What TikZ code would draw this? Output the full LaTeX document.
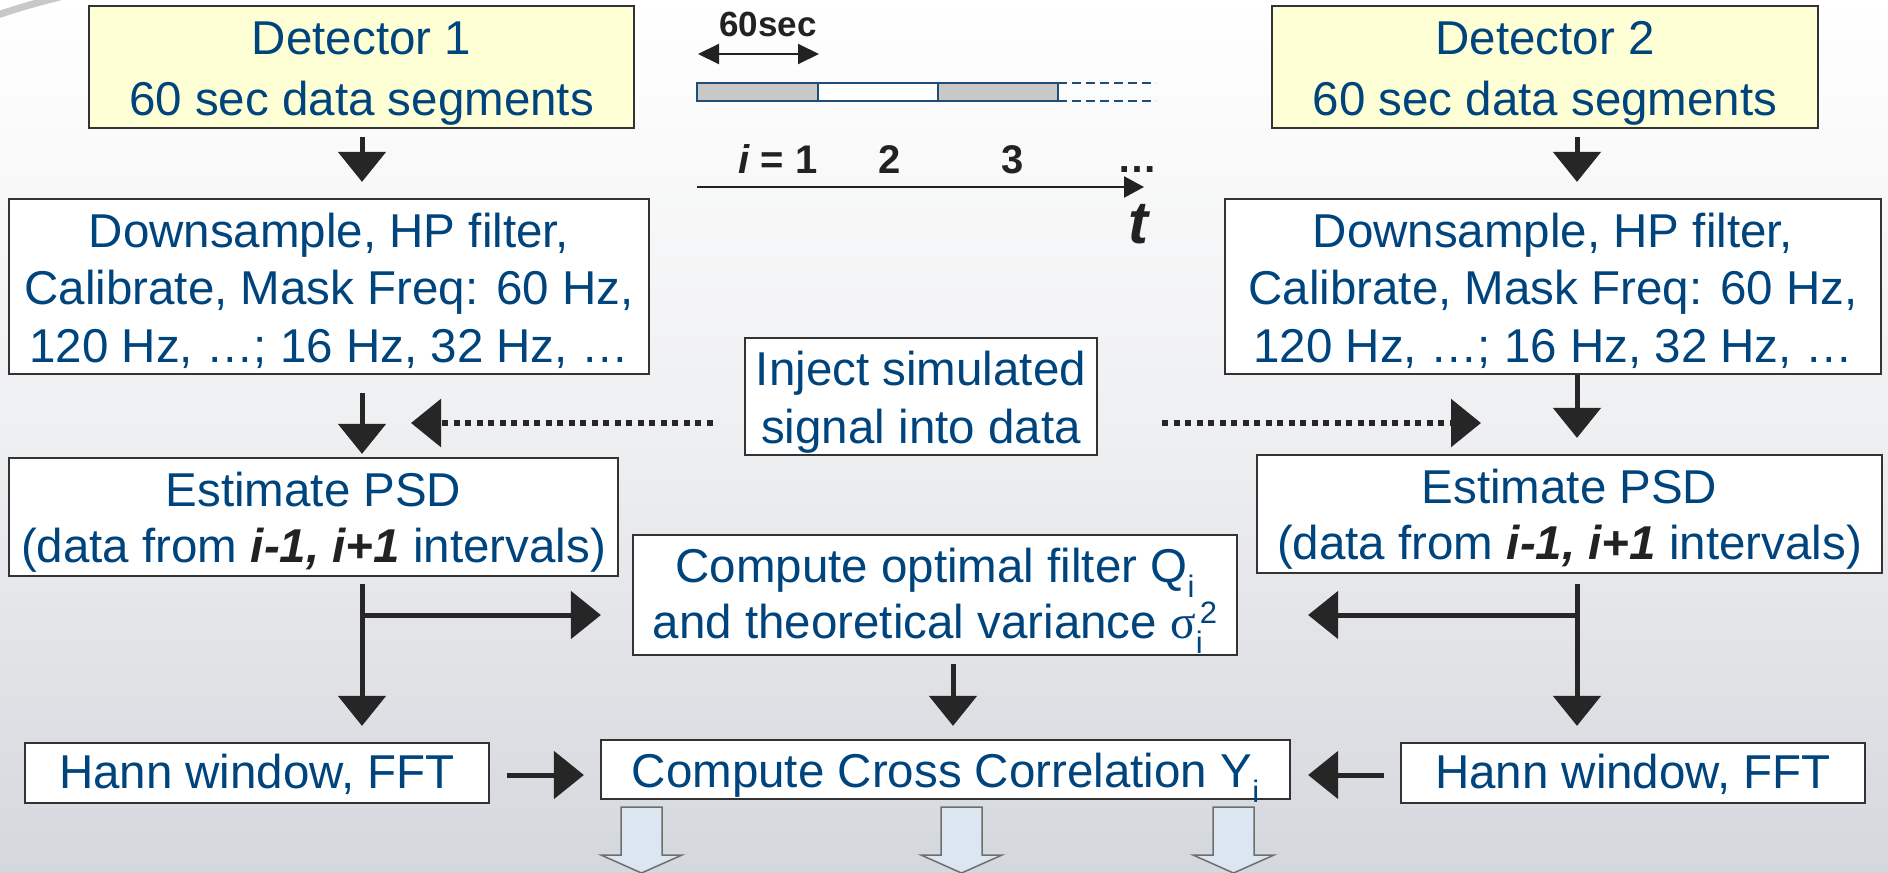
\documentclass[tikz,border=0pt]{standalone}
\usepackage{fontspec}
\setmainfont{Liberation Sans}
\newfontfamily\serifgreek{Liberation Serif}
\usetikzlibrary{arrows.meta}

\definecolor{txtblue}{RGB}{0,68,125}
\definecolor{arrowdark}{RGB}{38,38,38}
\definecolor{boxline}{RGB}{51,51,51}
\definecolor{detfill}{RGB}{255,255,213}
\definecolor{bgtop}{RGB}{255,255,255}
\definecolor{bgmid}{RGB}{238,239,241}
\definecolor{bgbot}{RGB}{212,215,220}
\definecolor{barblue}{RGB}{31,78,121}
\definecolor{bargray}{RGB}{200,200,200}
\definecolor{blockfill}{RGB}{220,230,242}
\definecolor{blockline}{RGB}{110,110,110}
\definecolor{darktxt}{RGB}{34,34,34}
\definecolor{arcgray}{RGB}{200,200,200}

\newcommand{\boxtxt}[3]{\fontsize{47.5}{#2}\selectfont\raisebox{-#1pt}[\height][\depth]{\begin{tabular}{@{}c@{}}#3\end{tabular}}}
\newcommand{\subi}{\raisebox{-15pt}{\fontsize{31}{31}\selectfont i}}
\newcommand{\suptwo}{\raisebox{15pt}{\fontsize{31}{31}\selectfont 2}}
\newcommand{\bi}[1]{{\color{darktxt}\bfseries\itshape #1}}

\begin{document}
\begin{tikzpicture}[x=1pt,y=-1pt,
  box/.style={draw=boxline, line width=2.2pt, fill=white, inner sep=0pt, text=txtblue},
  detbox/.style={box, fill=detfill},
  arr/.style={draw=arrowdark, line width=5pt, -{Triangle[width=47pt,length=30pt]}, arrowdark},
  dotarr/.style={draw=arrowdark, line width=6pt, dash pattern=on 6pt off 5.5pt, -{Triangle[width=47pt,length=30pt]}},
  tl/.style={text=darktxt, font=\bfseries\fontsize{40}{40}\selectfont, inner sep=0pt, anchor=base},
  block/.style={draw=blockline, line width=1.5pt, fill=blockfill, line join=miter}
]
\useasboundingbox (0,0) rectangle (1888,873);
\shade[top color=bgtop, bottom color=bgbot, middle color=bgmid] (0,0) rectangle (1888,873);

% decorative arc top-left
\draw[line width=7pt, arcgray] (-5,16) .. controls (15,9) and (35,3) .. (60,-3);

% columns
\coordinate (colL) at (362,0);
\coordinate (colR) at (1577,0);
\coordinate (colM) at (953,0);
\coordinate (injrow) at (0,423);
\coordinate (brL) at (362,615);
\coordinate (brR) at (1577,615);
\coordinate (hrow) at (0,775);
\coordinate (injL) at (411,423);
\coordinate (injR) at (1481,423);

% boxes
\node[detbox, minimum width=545pt, minimum height=120pt] (det1) at (361.5,67) {\boxtxt{5.3}{61}{Detector 1\\60 sec data segments}};
\node[detbox, minimum width=546pt, minimum height=120pt] (det2) at (1545,67) {\boxtxt{5.3}{61}{Detector 2\\60 sec data segments}};

\node[box, minimum width=640pt, minimum height=175pt] (ds1) at (329,286.5) {\boxtxt{6.5}{57.5}{Downsample, HP filter,\\Calibrate, Mask Freq: 60 Hz,\\120 Hz, …; 16 Hz, 32 Hz, …}};
\node[box, minimum width=656pt, minimum height=175pt] (ds2) at (1553,286.5) {\boxtxt{6.5}{57.5}{Downsample, HP filter,\\Calibrate, Mask Freq: 60 Hz,\\120 Hz, …; 16 Hz, 32 Hz, …}};

\node[box, minimum width=352pt, minimum height=117pt] (inj) at (921,396.5) {\boxtxt{6}{58}{Inject simulated\\signal into data}};

\node[box, minimum width=609pt, minimum height=118pt] (psd1) at (313.5,517) {\boxtxt{5.8}{56}{Estimate PSD\\(data from \bi{i-1, i+1} intervals)}};
\node[box, minimum width=625pt, minimum height=118pt] (psd2) at (1569.5,514) {\boxtxt{5.8}{56}{Estimate PSD\\(data from \bi{i-1, i+1} intervals)}};

\node[box, minimum width=604pt, minimum height=120pt] (opt) at (935,595) {\boxtxt{3.8}{56}{Compute optimal filter Q\subi\\and theoretical variance {\serifgreek σ}\rlap{\subi}\kern4pt\suptwo}};

\node[box, minimum width=689pt, minimum height=59pt] (cross) at (945.5,769.5) {\boxtxt{5.9}{58}{Compute Cross Correlation Y\subi}};

\node[box, minimum width=464pt, minimum height=60pt] (hann1) at (257,773) {\boxtxt{3.4}{58}{Hann window, FFT}};
\node[box, minimum width=464pt, minimum height=60pt] (hann2) at (1633,773) {\boxtxt{3.4}{58}{Hann window, FFT}};

% connectors
\draw[arr, shorten <=8pt, shorten >=16pt] (det1.south -| colL) -- (ds1.north -| colL);
\draw[arr, shorten <=8pt, shorten >=16pt] (det2.south -| colR) -- (ds2.north -| colR);
\draw[arr, shorten <=18pt, shorten >=3pt] (ds1.south -| colL) -- (psd1.north -| colL);
\draw[arr, shorten >=16pt] (ds2.south -| colR) -- (psd2.north -| colR);

\draw[arr, shorten <=7pt, shorten >=16pt] (psd1.south -| colL) -- (hann1.north -| colL);
\draw[arr, shorten >=31pt] (brL) -- (opt.west |- brL);
\draw[arr, shorten <=10pt, shorten >=16pt] (psd2.south -| colR) -- (hann2.north -| colR);
\draw[arr, shorten >=70pt] (brR) -- (opt.east |- brR);

\draw[arr, shorten <=8pt, shorten >=13pt] (opt.south -| colM) -- (cross.north -| colM);
\draw[arr, shorten <=17pt, shorten >=16pt] (hann1.east |- hrow) -- (cross.west |- hrow);
\draw[arr, shorten <=16pt, shorten >=17pt] (hann2.west |- hrow) -- (cross.east |- hrow);

\draw[dotarr, shorten <=31pt] (inj.west |- injrow) -- (injL);
\draw[dotarr, shorten <=64pt] (inj.east |- injrow) -- (injR);

% block arrows below cross correlation
\foreach \c in {641.5,961.5,1233.5}{
  \draw[block] (\c-20.5,807) -- (\c+20.5,807) -- (\c+20.5,855) -- (\c+40.5,855) -- (\c,873) -- (\c-40.5,855) -- (\c-20.5,855) -- cycle;
}

% timeline
\node[tl, font=\bfseries\fontsize{35}{35}\selectfont] (sixty) at (768,36) {60sec};
\coordinate (dl) at (698,54);
\coordinate (dr) at (819,54);
\draw[line width=2pt, darktxt, {Triangle[width=20pt,length=21pt]}-{Triangle[width=20pt,length=21pt]}] (dl) -- (dr);

\draw[draw=barblue, fill=bargray, line width=1.5pt] (697,83) rectangle (818,101);
\draw[draw=barblue, fill=white, line width=1.5pt] (818,83) rectangle (938,101);
\draw[draw=barblue, fill=bargray, line width=1.5pt] (938,83) rectangle (1058,101);
\draw[barblue, line width=1.5pt, dash pattern=on 9pt off 5pt] (1058,83) -- (1156,83);
\draw[barblue, line width=1.5pt, dash pattern=on 9pt off 5pt] (1058,101) -- (1156,101);

\node[tl] (lab1) at (778,173) {{\itshape i} = 1};
\node[tl] (lab2) at (890,173) {2};
\node[tl] (lab3) at (1013,173) {3};
\node[tl] (labd) at (1137,172) {…};

\coordinate (ax0) at (697,187);
\coordinate (ax1) at (1144,187);
\draw[line width=2.5pt, darktxt, -{Triangle[width=21pt,length=20pt]}] (ax0) -- (ax1);
\node[tl, font=\bfseries\itshape\fontsize{60}{60}\selectfont] (tlab) at (1138,243) {t};
\end{tikzpicture}
\end{document}
